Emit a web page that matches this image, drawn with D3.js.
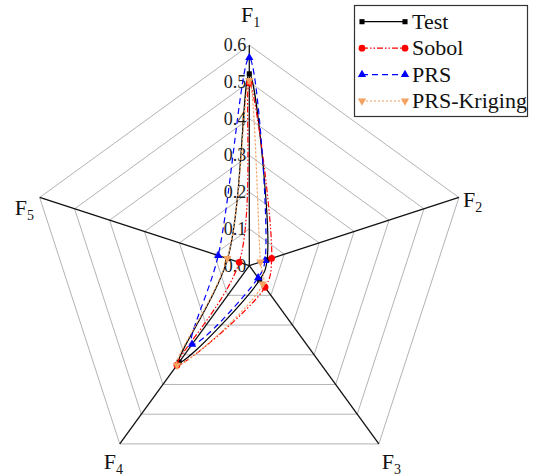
<!DOCTYPE html>
<html>
<head>
<meta charset="utf-8">
<script src="https://cdn.jsdelivr.net/npm/d3@7"></script>
<style>
  html, body { margin: 0; padding: 0; background: #fff; }
  svg { display: block; }
</style>
</head>
<body>
<svg id="chart" width="536" height="476"></svg>
<script>
// ---- data ----
const categories = ["F1", "F2", "F3", "F4", "F5"];
const ticks = [0.0, 0.1, 0.2, 0.3, 0.4, 0.5, 0.6];
const tickLabels = ["0.0", "0.1", "0.2", "0.3", "0.4", "0.5", "0.6"];
const seriesNames = ["Test", "Sobol", "PRS", "PRS-Kriging"];
const testValues    = [0.522, 0.051, 0.048, 0.325, 0.062];
const sobolValues   = [0.497, 0.064, 0.073, 0.335, 0.029];
const prsValues     = [0.566, 0.045, 0.041, 0.265, 0.089];
const krigingValues = [0.504, 0.032, 0.062, 0.335, 0.063];

// ---- layout / style ----
const FONT = "'Liberation Serif', 'Times New Roman', Times, 'DejaVu Serif', serif";
const cx = 249.3, cy = 265.6, R = 220.4;
const svg = d3.select("#chart").attr("font-family", FONT);

const r = d3.scaleLinear().domain([0, 0.6]).range([0, R]);
const angle = d3.scalePoint().domain(categories.concat(["_end"])).range([0, 2 * Math.PI]);
const pt = (cat, v) => {
  const a = angle(cat) - Math.PI / 2;
  return [cx + r(v) * Math.cos(a), cy + r(v) * Math.sin(a)];
};

const styles = [
  { color: "#000000", dash: null, marker: "square" },
  { color: "#ff0000", dash: "6,2,1.5,2,1.5,2", marker: "circle" },
  { color: "#0000ff", dash: "6,4", marker: "triangleUp" },
  { color: "#f4a261", dash: "2.2,1.8", marker: "triangleDown" }
];
const allValues = [testValues, sobolValues, prsValues, krigingValues];

// grid rings
const g = svg.append("g");
ticks.slice(1).forEach(t => {
  const pts = categories.map(c => pt(c, t));
  g.append("path")
    .attr("d", d3.line()(pts) + "Z")
    .attr("fill", "none")
    .attr("stroke", "#b4b4b4")
    .attr("stroke-width", 1);
});

// axes
categories.forEach(c => {
  const [x, y] = pt(c, 0.6);
  g.append("line")
    .attr("x1", cx).attr("y1", cy).attr("x2", x).attr("y2", y)
    .attr("stroke", "#111").attr("stroke-width", 1.3);
});

// tick labels along F1
ticks.forEach((t, i) => {
  const [x, y] = pt(categories[0], t);
  g.append("text")
    .attr("x", x - 3).attr("y", y + 6)
    .attr("text-anchor", "end")
    .attr("font-family", FONT)
    .attr("font-size", 18)
    .attr("fill", "#222")
    .text(tickLabels[i]);
});

// axis labels
const labelOffsets = [[-8.3, -23], [4, 9.7], [3, 25], [-16, 25], [-25, 17.4]];
categories.forEach((c, i) => {
  const [x, y] = pt(c, 0.6);
  const t = g.append("text")
    .attr("x", x + labelOffsets[i][0]).attr("y", y + labelOffsets[i][1])
    .attr("font-family", FONT)
    .attr("font-size", 22).attr("fill", "#111");
  t.append("tspan").text(c.charAt(0));
  t.append("tspan").attr("font-size", 14).attr("dy", 5).text(c.slice(1));
});

// marker drawing
const symbolOf = {
  square: d3.symbol().type(d3.symbolSquare).size(26),
  circle: d3.symbol().type(d3.symbolCircle).size(36),
  triangleUp: d3.symbol().type(d3.symbolTriangle).size(30),
  triangleDown: d3.symbol().type(d3.symbolTriangle).size(30)
};
function drawMarker(sel, style, x, y) {
  const rot = style.marker === "triangleDown" ? 180 : 0;
  sel.append("path")
    .attr("d", symbolOf[style.marker]())
    .attr("transform", `translate(${x},${y}) rotate(${rot})`)
    .attr("fill", style.color)
    .attr("stroke", "none");
}

// series
const curve = d3.line().curve(d3.curveCatmullRomClosed.alpha(0.5));
allValues.forEach((vals, si) => {
  const st = styles[si];
  const pts = categories.map((c, i) => pt(c, vals[i]));
  const sg = svg.append("g");
  sg.append("path")
    .attr("d", curve(pts))
    .attr("fill", "none")
    .attr("stroke", st.color)
    .attr("stroke-width", 1.2)
    .attr("stroke-dasharray", st.dash);
  pts.forEach(p => drawMarker(sg, st, p[0], p[1]));
});

// legend
const lg = svg.append("g");
lg.append("rect")
  .attr("x", 354.5).attr("y", 5.5).attr("width", 173).attr("height", 111)
  .attr("fill", "#fff").attr("stroke", "#333").attr("stroke-width", 1.2);
const legendY = d3.scalePoint().domain(seriesNames).range([21.7, 101]);
seriesNames.forEach((name, si) => {
  const st = styles[si];
  const y = legendY(name);
  lg.append("line")
    .attr("x1", 362).attr("x2", 405).attr("y1", y).attr("y2", y)
    .attr("stroke", st.color).attr("stroke-width", 1.2)
    .attr("stroke-dasharray", st.dash);
  drawMarker(lg, st, 362, y);
  drawMarker(lg, st, 405, y);
  lg.append("text")
    .attr("x", 412).attr("y", y + 7)
    .attr("font-family", FONT)
    .attr("font-size", 22).attr("fill", "#111")
    .text(name);
});
</script>
</body>
</html>
